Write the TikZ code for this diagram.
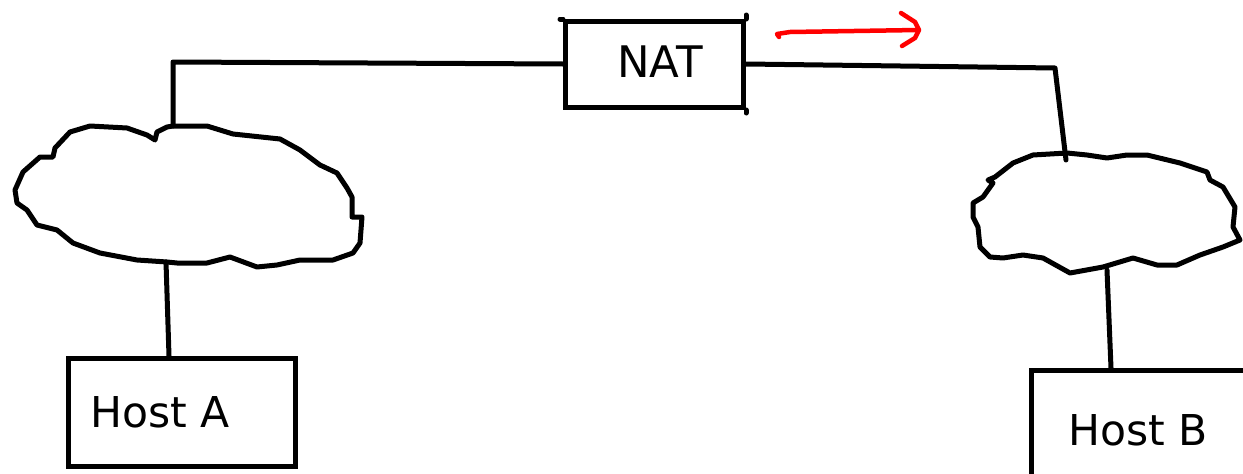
\documentclass[tikz,border=0pt]{standalone}
\usepackage{fontspec}
\setmainfont{DejaVu Sans}
\begin{document}
\begin{tikzpicture}[x=1pt,y=-1pt,
  wire/.style={line width=5pt,line cap=round,line join=round},
  boxnode/.style={draw,line width=5pt,rectangle,inner sep=0pt,anchor=north west},
  label/.style={font=\fontsize{42.5}{50}\selectfont}]
\useasboundingbox (0,0) rectangle (1243,474);
\fill[white] (0,0) rectangle (1243,474);

% NAT box and the hosts
\node[boxnode,minimum width=178pt,minimum height=86pt] (nat) at (563,19) {};
\node[label,font=\fontsize{43.5}{52}\selectfont] (natlbl) at (660,62) {NAT};
\draw[wire] (nat.north west) -- ++(-3,0);
\draw[wire] (nat.north east) -- ++(0,-4);
\draw[wire] (nat.south east) -- ++(0,3);

\node[boxnode,minimum width=227pt,minimum height=108pt] (hosta) at (66,356) {};
\node[label] (hostalbl) at (160,412) {Host A};

\begin{scope}
\clip (0,0) rectangle (1243,474);
\node[boxnode,minimum width=240pt,minimum height=106pt] (hostb) at (1029,368) {};
\end{scope}
\node[label] (hostblbl) at (1138,430) {Host B};

% left cloud
\draw[wire] (155,140) -- (157,132) -- (167,127) -- (173,126) -- (207,126) -- (233,134)
  -- (280,139) -- (300,150) -- (320,165) -- (337,173) -- (347,188) -- (352,197)
  -- (352,217) -- (362,217) -- (360,243) -- (353,253) -- (333,260) -- (300,260)
  -- (277,265) -- (257,267) -- (230,257) -- (207,263) -- (177,263) -- (167,262)
  -- (137,260) -- (100,253) -- (73,243) -- (57,230) -- (37,225) -- (27,210)
  -- (17,203) -- (15,190) -- (23,172) -- (40,157) -- (53,157) -- (55,148)
  -- (70,132) -- (90,126) -- (127,128) -- (147,135) -- cycle;
\coordinate (cloudAtop) at (173,126);
\coordinate (cloudAbot) at (166,262);

% right cloud
\draw[wire] (1067,153) -- (1033,155) -- (1013,163) -- (995,177) -- (988,180)
  -- (993,183) -- (983,197) -- (973,203) -- (973,217) -- (978,227) -- (980,247)
  -- (990,257) -- (1003,258) -- (1023,255) -- (1043,258) -- (1070,273)
  -- (1103,267) -- (1133,258) -- (1157,265) -- (1177,265) -- (1200,255)
  -- (1223,247) -- (1240,240) -- (1233,227) -- (1235,207) -- (1223,187)
  -- (1210,180) -- (1207,172) -- (1180,163) -- (1147,155) -- (1127,155)
  -- (1107,158) -- (1087,155) -- cycle;
\coordinate (cloudBtop) at (1066,160);
\coordinate (cloudBbot) at (1107,270);

% connections
\draw[wire] (cloudAtop) -- (173,62) -- (nat.west |- 0,64);
\draw[wire] (nat.east |- 0,64) -- (1055,68) -- (cloudBtop);
\draw[wire] (cloudAbot) -- (hosta.north -| 169,0);
\draw[wire] (cloudBbot) -- (hostb.north -| 1111,0);

% direction marker
\draw[red,line width=4.5pt,line cap=round,line join=round]
  (779,37) -- (777,34) -- (790,32) -- (918,30);
\draw[red,line width=4.5pt,line cap=round,line join=round]
  (901,13) -- (915,22) -- (919,30) -- (915,38) -- (902,46);
\end{tikzpicture}
\end{document}
